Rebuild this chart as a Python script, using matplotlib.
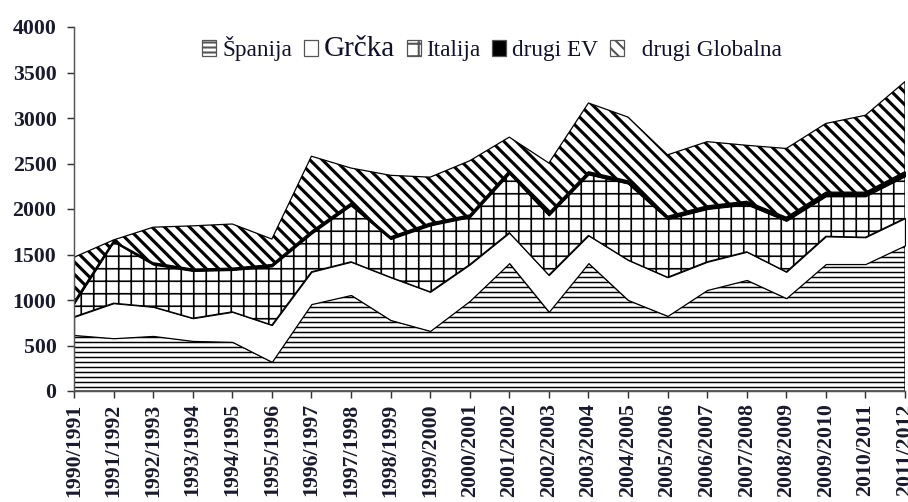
import matplotlib
matplotlib.use('Agg')
import matplotlib.pyplot as plt
import numpy as np
from matplotlib.patches import Patch

seasons = ['1990/1991','1991/1992','1992/1993','1993/1994','1994/1995','1995/1996',
           '1996/1997','1997/1998','1998/1999','1999/2000','2000/2001','2001/2002',
           '2002/2003','2003/2004','2004/2005','2005/2006','2006/2007','2007/2008',
           '2008/2009','2009/2010','2010/2011','2011/2012']

spanija  = [615,580,605,550,540,320,955,1055,780,660,990,1405,870,1405,1000,825,1110,1220,1020,1395,1395,1600]
grcka    = [200,385,320,250,330,405,355,365,470,430,400,335,405,305,440,425,310,310,290,305,295,300]
italija  = [145,675,465,520,460,645,420,620,420,730,520,650,655,670,840,640,580,520,560,440,450,460]
drugi_ev = [20,10,20,20,20,20,25,25,25,25,25,30,30,30,30,30,35,35,40,45,45,50]
globalna = [490,10,390,475,485,280,825,385,675,505,595,370,545,755,700,675,705,615,755,755,845,990]

names = ['Španija', 'Grčka', 'Italija', 'drugi EV', '  drugi Globalna']

plt.rcParams['font.family'] = ['Liberation Serif', 'DejaVu Serif']

fig = plt.figure(figsize=(908/150, 502/150), dpi=150)
ax = fig.add_axes([74/908, 111/502, 831/908, 364/502])

x = np.arange(len(seasons))
series = [spanija, grcka, italija, drugi_ev, globalna]
faces = ['white', 'white', 'white', 'black', 'white']
hatches = ['-----', None, '++', None, '\\\\\\\\']
hlw = [0.7, 0.7, 0.8, 0.7, 1.5]

bottom = np.zeros(len(x))
handles = []
for vals, fc, h, lw, name in zip(series, faces, hatches, hlw, names):
    top = bottom + np.array(vals)
    coll = ax.fill_between(x, bottom, top, facecolor=fc, edgecolor='black',
                           hatch=h, linewidth=0.6)
    coll.set_hatch_linewidth(lw)
    p = Patch(facecolor=fc, edgecolor='#555555', hatch=h, linewidth=0.6, label=name)
    handles.append(p)
    bottom = top

ax.set_xlim(0, 21)
ax.set_ylim(0, 4000)
ax.set_yticks(range(0, 4001, 500))
ax.set_xticks(x)
ax.set_xticklabels(seasons, rotation=90, fontsize=10.5, fontweight='bold')
for lab in ax.get_yticklabels():
    lab.set_fontsize(10.5)
    lab.set_fontweight('bold')
ax.tick_params(axis='y', length=3.4, width=0.7, pad=5, colors='#333333', labelcolor='#1a1a2e')
ax.tick_params(axis='x', length=3.4, width=0.7, pad=2.5, colors='#333333', labelcolor='#1a1a2e')
for s in ['top', 'right']:
    ax.spines[s].set_visible(False)
for s in ['left', 'bottom']:
    ax.spines[s].set_linewidth(0.7)
    ax.spines[s].set_color('#555555')

leg = ax.legend(handles=handles, loc='center', bbox_to_anchor=(0.503, 0.94), ncol=5,
                frameon=False, fontsize=11.2, handlelength=0.6, handleheight=0.7,
                handletextpad=0.25, columnspacing=0.5, borderpad=0)
leg.get_texts()[1].set_fontsize(14)
for t in leg.get_texts():
    t.set_color('#10102a')

fig.savefig('out.png', dpi=150)
